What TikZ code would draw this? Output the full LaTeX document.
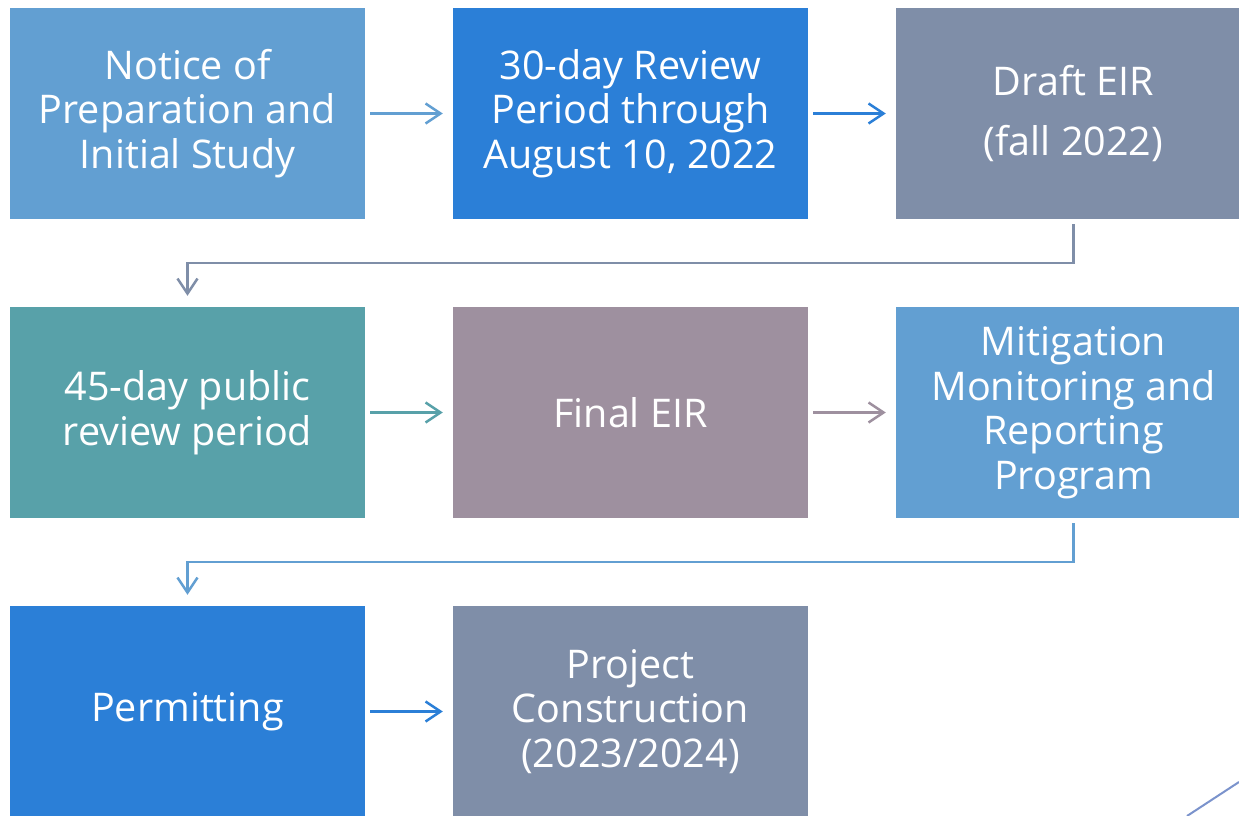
\documentclass[tikz,border=0pt]{standalone}
\usepackage{fontspec}
\setmainfont{Open Sans}
\usetikzlibrary{arrows.meta}
\definecolor{cLight}{HTML}{629FD2}
\definecolor{cBlue}{HTML}{2B7FD7}
\definecolor{cGray}{HTML}{7F8EA8}
\definecolor{cTeal}{HTML}{58A1A9}
\definecolor{cMauve}{HTML}{9E909F}
\definecolor{cLine}{HTML}{7B93CC}
\begin{document}
\begin{tikzpicture}[x=1pt,y=-1pt,
  box/.style={rectangle, minimum width=355pt, minimum height=211pt, inner sep=0pt,
    text=white, align=center, font=\fontsize{39.5}{44.5}\selectfont},
  conn/.style={line width=2.5pt, -{Straight Barb[length=15pt,width=20pt,line width=2.5pt]},
    shorten <=5pt, shorten >=10pt},
  elbow/.style={line width=2.5pt, -{Straight Barb[length=15pt,width=20pt,line width=2.5pt]}}]
\useasboundingbox (0,0) rectangle (1239,816);
\clip (0,0) rectangle (1239,816);
\node[box, fill=cLight] (b1) at (187.5,113.5) {Notice of\\Preparation and\\Initial Study};
\node[box, fill=cBlue]  (b2) at (630.5,113.5) {30-day Review\\Period through\\August 10, 2022};
\node[box, fill=cGray]  (b3) at (1073.5,113.5) {Draft EIR\\[16pt](fall 2022)};
\node[box, fill=cTeal]  (b4) at (187.5,412.5) {45-day public\\review period};
\node[box, fill=cMauve] (b5) at (630.5,412.5) {Final EIR};
\node[box, fill=cLight] (b6) at (1073.5,412.5) {Mitigation\\Monitoring and\\Reporting\\Program};
\node[box, fill=cBlue]  (b7) at (187.5,711.5) {Permitting};
\node[box, fill=cGray]  (b8) at (630.5,711.5) {Project\\Construction\\(2023/2024)};
\draw[conn, cLight] (b1) -- (b2);
\draw[conn, cBlue] (b2) -- (b3);
\draw[conn, cTeal] (b4) -- (b5);
\draw[conn, cMauve] (b5) -- (b6);
\draw[conn, cBlue] (b7) -- (b8);
\draw[elbow, cGray] ([yshift=-5pt]b3.south) -- ++(0,39) -| ([yshift=11pt]b4.north);
\draw[elbow, cLight] ([yshift=-5pt]b6.south) -- ++(0,39) -| ([yshift=11pt]b7.north);
\draw[cLine, line width=2pt] (1187,816) -- (1239,782);
\end{tikzpicture}
\end{document}
